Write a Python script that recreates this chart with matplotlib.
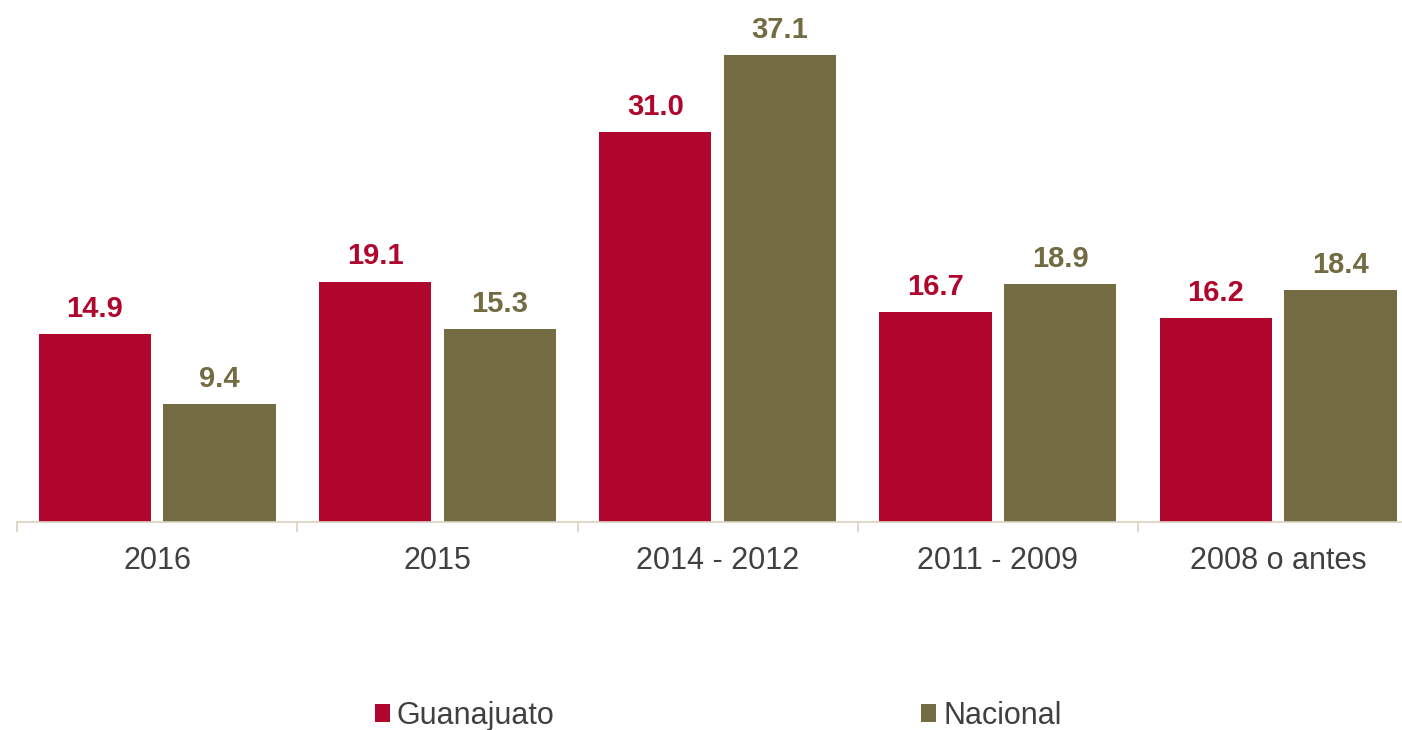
import matplotlib
matplotlib.use('Agg')
from matplotlib import pyplot as plt
from matplotlib.patches import Patch
import numpy as np

categories = ['2016', '2015', '2014 - 2012', '2011 - 2009', '2008 o antes']
guanajuato = [14.9, 19.1, 31.0, 16.7, 16.2]
nacional = [9.4, 15.3, 37.1, 18.9, 18.4]
series_names = ['Guanajuato', 'Nacional']

RED = '#B0062D'
OLIVE = '#736B41'
AXIS_CLR = '#D9D3BE'
TEXT_CLR = '#404040'

plt.rcParams['font.family'] = ['Liberation Sans', 'DejaVu Sans']

fig = plt.figure(figsize=(14.02, 7.30), dpi=100)
ax = fig.add_axes([17 / 1402, 208 / 730, 1 - 17 / 1402, 492 / 730])

x = np.arange(len(categories))
width = 0.40
offset = 0.2225

bars_g = ax.bar(x - offset, guanajuato, width, color=RED, label=series_names[0])
bars_n = ax.bar(x + offset, nacional, width, color=OLIVE, label=series_names[1])

for bars, vals, clr in [(bars_g, guanajuato, RED), (bars_n, nacional, OLIVE)]:
    for b, v in zip(bars, vals):
        ax.annotate(f'{v:.1f}', (b.get_x() + b.get_width() / 2, v),
                    xytext=(0, 8), textcoords='offset points',
                    ha='center', va='bottom', fontsize=21, fontweight='bold',
                    color=clr, clip_on=False)

for s in ['top', 'right', 'left']:
    ax.spines[s].set_visible(False)
ax.spines['bottom'].set_color(AXIS_CLR)
ax.spines['bottom'].set_linewidth(1.2)
ax.set_yticks([])

ax.set_xticks(x)
ax.set_xticklabels(categories, fontsize=22, color=TEXT_CLR)
ax.tick_params(axis='x', which='major', length=0, pad=17)
ax.set_xticks(np.arange(-0.5, len(categories) - 1, 1.0), minor=True)
ax.tick_params(axis='x', which='minor', length=7.5, width=1.2,
               color=AXIS_CLR, direction='out')

# limits after ticks, set_xticks would widen them
ax.set_xlim(-0.5, 4.442)
ax.set_ylim(0, 39.08)

handles = [Patch(facecolor=RED), Patch(facecolor=OLIVE)]
fig.legend(handles, series_names, loc='lower center',
           bbox_to_anchor=(718 / 1402, -0.018), ncol=2, frameon=False,
           fontsize=22, handlelength=0.5, handleheight=0.5,
           handletextpad=0.22, columnspacing=12.0, borderaxespad=0,
           labelcolor=TEXT_CLR)

fig.savefig('out.png', dpi=100)
